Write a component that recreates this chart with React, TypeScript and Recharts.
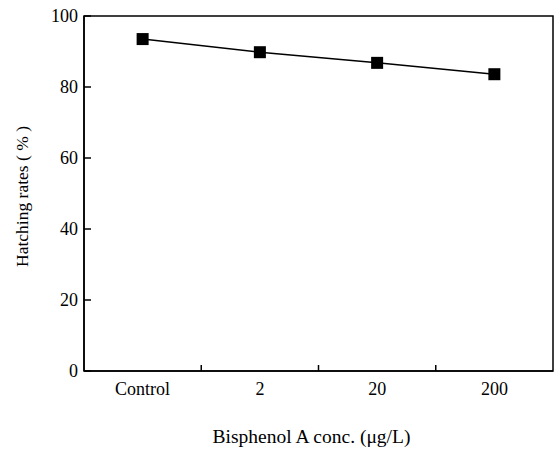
import { Line, LineChart, ReferenceArea, XAxis, YAxis } from "recharts";

const categories = ["Control", "2", "20", "200"];
const hatchingRates = [93.5, 89.8, 86.8, 83.6];
const yTicks = [0, 20, 40, 60, 80, 100];
// category centres sit on half steps, tick marks fall between the categories
const xTicks = [0.5, 1, 1.5, 2, 2.5, 3, 3.5];

const data = categories.map((name, i) => ({ pos: i + 0.5, name, rate: hatchingRates[i] }));

const FONT = '"Liberation Serif", "Times New Roman", serif';

function XTick({ x, y, payload }: any) {
  const v = payload.value as number;
  if (Number.isInteger(v)) {
    return <line x1={x} x2={x} y1={y} y2={y - 6} stroke="#000" strokeWidth={1.5} />;
  }
  return (
    <text x={x} y={y + 24} textAnchor="middle" fontFamily={FONT} fontSize={18} fill="#000">
      {categories[Math.floor(v)]}
    </text>
  );
}

function YTick({ x, y, payload }: any) {
  return (
    <g>
      <line x1={x} x2={x + 7} y1={y} y2={y} stroke="#000" strokeWidth={1.5} />
      <text x={x - 6} y={y} dy="0.35em" textAnchor="end" fontFamily={FONT} fontSize={18} fill="#000">
        {payload.value}
      </text>
    </g>
  );
}

function SquareDot({ cx, cy }: any) {
  return <rect x={cx - 6} y={cy - 6} width={12} height={12} fill="#000" />;
}

export default function App() {
  return (
    <div style={{ position: "absolute", left: 0, top: 0, width: 556, height: 451, background: "#fff" }}>
      <LineChart width={556} height={451} data={data} margin={{ top: 16, right: 3, bottom: 0, left: 0 }}>
        <ReferenceArea x1={0} x2={4} y1={0} y2={100} fill="none" stroke="#000" strokeWidth={1.5} ifOverflow="visible" />
        <XAxis
          dataKey="pos"
          type="number"
          domain={[0, 4]}
          ticks={xTicks}
          height={80}
          tickSize={0}
          tickMargin={0}
          tickLine={false}
          axisLine={{ stroke: "#000", strokeWidth: 1.5 }}
          tick={<XTick />}
          interval={0}
          label={{
            value: "Bisphenol A conc. (μg/L)",
            position: "insideBottom",
            offset: 8,
            dx: -7,
            style: { fontFamily: FONT, fontSize: 19.5, fill: "#000" },
          }}
        />
        <YAxis
          type="number"
          domain={[0, 100]}
          ticks={yTicks}
          width={84}
          tickSize={0}
          tickMargin={0}
          tickLine={false}
          axisLine={{ stroke: "#000", strokeWidth: 1.5 }}
          tick={<YTick />}
          interval={0}
          label={{
            value: "Hatching rates ( % )",
            angle: -90,
            position: "insideLeft",
            offset: 22,
            dy: 3,
            style: { fontFamily: FONT, fontSize: 17.5, fill: "#000", textAnchor: "middle" },
          }}
        />
        <Line
          dataKey="rate"
          stroke="#000"
          strokeWidth={1.5}
          dot={<SquareDot />}
          activeDot={false}
          isAnimationActive={false}
        />
      </LineChart>
    </div>
  );
}
